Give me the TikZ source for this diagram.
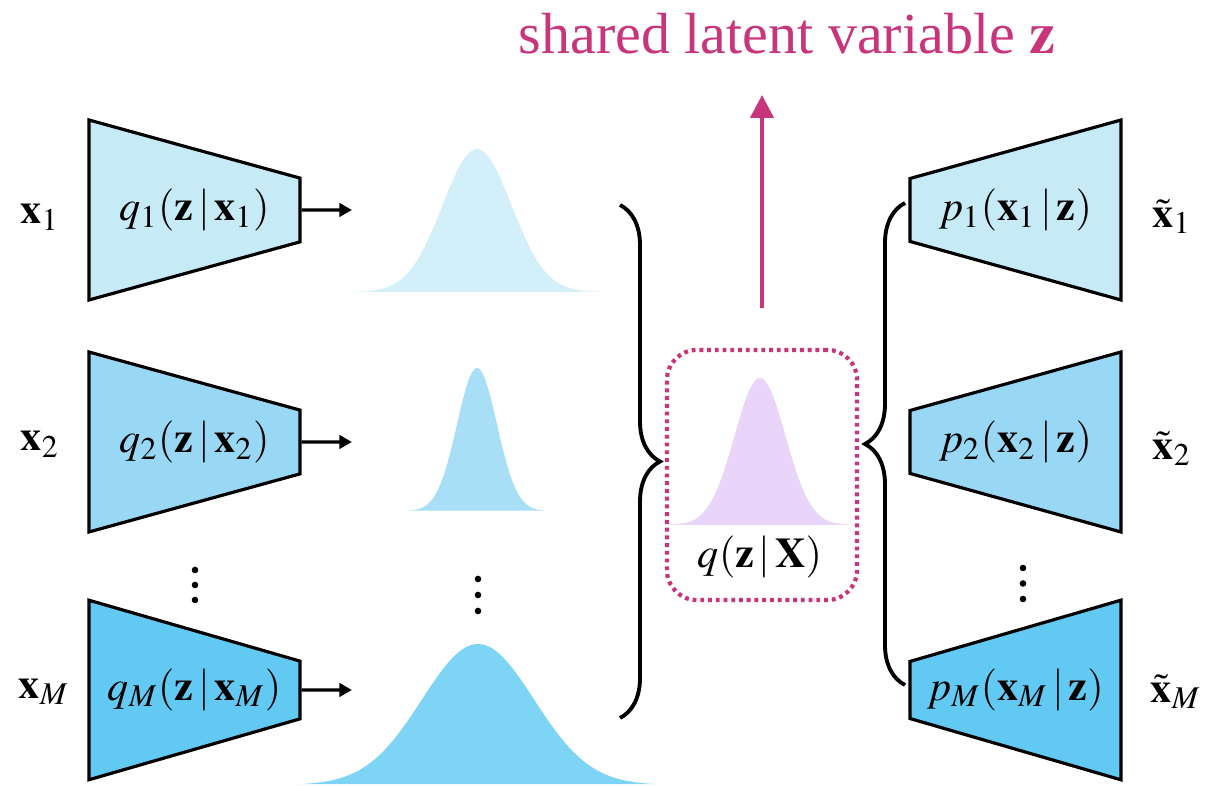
\documentclass[tikz,border=0pt]{standalone}
\usepackage{amsmath}
\usepackage{mathptmx}
\usepackage[no-math]{fontspec}
\setmainfont{Liberation Serif}
\usetikzlibrary{shapes.geometric, arrows.meta, positioning, calc, decorations.pathreplacing}
\definecolor{encA}{HTML}{C6EAF6}
\definecolor{encB}{HTML}{99D8F5}
\definecolor{encC}{HTML}{62C9F3}
\definecolor{gaussA}{HTML}{D3F0FA}
\definecolor{gaussB}{HTML}{A9DFF6}
\definecolor{gaussC}{HTML}{7DD4F4}
\definecolor{postc}{HTML}{E9D4FA}
\definecolor{latent}{HTML}{C8357A}

\begin{document}
\begin{tikzpicture}[x=0.01cm, y=-0.01cm,
    every node/.style={font=\fontsize{12}{14}\selectfont},
    enc/.style={trapezium, draw, line width=0.9pt, shape border rotate=270,
                trapezium left angle=75.6, trapezium right angle=75.6,
                trapezium stretches=true, minimum width=1.8cm,
                minimum height=2.11cm, inner sep=0pt},
    dec/.style={enc, shape border rotate=90},
    arr/.style={-{Triangle[length=3.6pt, width=3.8pt]}, line width=0.9pt},
    brc/.style={decorate, decoration={brace, amplitude=0.4cm}, line width=1.1pt},
    latbox/.style={draw=latent, line width=1.2pt, dash pattern=on 1.1pt off 1.1pt,
                   rounded corners=0.3cm, minimum width=1.9cm, minimum height=2.5cm},
    latarr/.style={-{Triangle[length=6.5pt, width=6.5pt]}, draw=latent, line width=1.2pt}
]
    \useasboundingbox (0,0) rectangle (1205,786);

    % encoders
    \node (x1) at (40,217) {$\mathbf{x}_1$};
    \node (x2) at (40,444) {$\mathbf{x}_2$};
    \node (xM) at (44,692) {$\mathbf{x}_M$};
    \node[enc, fill=encA] (enc1) at (194.5,210) {$q_1(\mathbf{z}\,|\,\mathbf{x}_1)$};
    \node[enc, fill=encB] (enc2) at (194.5,442) {$q_2(\mathbf{z}\,|\,\mathbf{x}_2)$};
    \node[enc, fill=encC] (encM) at (194.5,690) {$q_M(\mathbf{z}\,|\,\mathbf{x}_M)$};
    \foreach \k in {0,1,2}
        \fill (195,570+15*\k) circle (3.3);

    % per-view gaussians
    \fill[gaussA] plot[domain=-160:160, samples=90, smooth]
        ({477+\x}, {292-143*exp(-0.5*(\x/34.5)*(\x/34.5))}) -- cycle;
    \fill[gaussB] plot[domain=-70:70, samples=70, smooth]
        ({477+\x}, {511-143*exp(-0.5*(\x/20)*(\x/20))}) -- cycle;
    \fill[gaussC] plot[domain=-180:180, samples=90, smooth]
        ({478+\x}, {785-141*exp(-0.5*(\x/56)*(\x/56))}) -- cycle;
    \foreach \k in {0,1,2}
        \fill (478,579+16*\k) circle (3.3);

    \coordinate (g1) at (352,210);
    \coordinate (g2) at (352,442);
    \coordinate (gM) at (352,690);
    \draw[arr] (enc1.east) -- (g1);
    \draw[arr] (enc2.east) -- (g2);
    \draw[arr] (encM.east) -- (gM);

    % aggregated posterior
    \coordinate (lbt) at (620,205);
    \coordinate (lbb) at (620,718);
    \draw[brc] (lbt) -- (lbb);
    \node[latbox] (post) at (762,475) {};
    \fill[postc] plot[domain=-93:93, samples=80, smooth]
        ({760+\x}, {525-147*exp(-0.5*(\x/25.5)*(\x/25.5))}) -- cycle;
    \node (qpost) at (760,557) {$q(\mathbf{z}\,|\,\mathbf{X})$};

    \node[text=latent, font=\fontsize{16.5}{19}\selectfont] (title) at (787,34)
        {shared latent variable $\mathbf{z}$};
    \coordinate (zbase) at (762,308);
    \coordinate (ztip) at (762,95);
    \draw[latarr] (zbase) -- (ztip);

    % decoders
    \coordinate (rbt) at (905,203);
    \coordinate (rbb) at (905,685);
    \draw[brc] (rbb) -- (rbt);
    \node[dec, fill=encA] (dec1) at (1015.5,210) {$p_1(\mathbf{x}_1\,|\,\mathbf{z})$};
    \node[dec, fill=encB] (dec2) at (1015.5,442) {$p_2(\mathbf{x}_2\,|\,\mathbf{z})$};
    \node[dec, fill=encC] (decM) at (1015.5,690) {$p_M(\mathbf{x}_M\,|\,\mathbf{z})$};
    \foreach \k in {0,1,2}
        \fill (1023,568+15.5*\k) circle (3.3);
    \node (y1) at (1172,217) {$\tilde{\mathbf{x}}_1$};
    \node (y2) at (1172,449) {$\tilde{\mathbf{x}}_2$};
    \node (yM) at (1176,692) {$\tilde{\mathbf{x}}_M$};
\end{tikzpicture}
\end{document}
